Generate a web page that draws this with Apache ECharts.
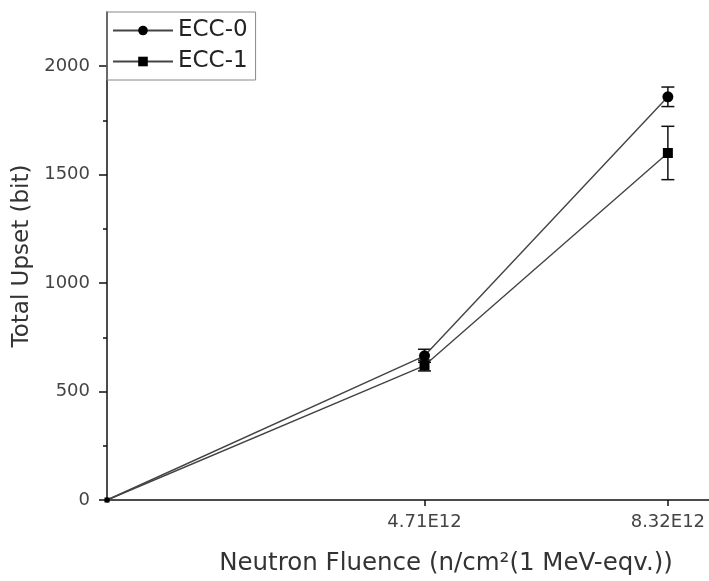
<!DOCTYPE html>
<html>
<head>
<meta charset="utf-8">
<script src="https://cdn.jsdelivr.net/npm/echarts@6/dist/echarts.min.js"></script>
<style>
  html, body {margin: 0; padding: 0; background: #fff;}
  #chart {width: 709px; height: 581px;}
</style>
</head>
<body>
<div id="chart"></div>
<script>
// neutron fluence, in units of 1E12 n/cm2
const fluence = [0, 4.71, 8.32];
const fluenceTicks = [4.71, 8.32];
const ecc0 = [0, 665, 1859];
const ecc0Err = [0, 30, 45];
const ecc1 = [0, 620, 1600];
const ecc1Err = [0, 25, 123];
const upsetTicks = [0, 500, 1000, 1500, 2000];
const upsetMinorTicks = [250, 750, 1250, 1750];

const font = 'DejaVu Sans';

const points = (ys) => fluence.map((x, i) => [x, ys[i]]);
const bars = (ys, errs) => fluence.map((x, i) => [x, ys[i] - errs[i], ys[i] + errs[i]]);

const errorBar = (params, api) => {
  const x = api.value(0);
  const lo = api.coord([x, api.value(1)]);
  const hi = api.coord([x, api.value(2)]);
  if (hi[1] === lo[1]) return null;
  const cap = 6.5;
  const style = {stroke: '#111', lineWidth: 1.5};
  return {
    type: 'group',
    children: [
      {type: 'line', shape: {x1: lo[0], y1: lo[1], x2: hi[0], y2: hi[1]}, style},
      {type: 'line', shape: {x1: lo[0] - cap, y1: lo[1], x2: lo[0] + cap, y2: lo[1]}, style},
      {type: 'line', shape: {x1: hi[0] - cap, y1: hi[1], x2: hi[0] + cap, y2: hi[1]}, style}
    ]
  };
};

// the origin point is drawn as a tiny blob, as in the source plot
const markerSize = (big) => (v) => (v[0] === 0 ? 5 : big);

const chart = echarts.init(document.getElementById('chart'));
chart.setOption({
  animation: false,
  textStyle: {fontFamily: font},
  grid: {left: 107, right: 0, top: 12, bottom: 78, containLabel: false},
  legend: {
    orient: 'vertical',
    left: 107,
    top: 12,
    padding: [7, 8, 7, 5],
    itemGap: 8,
    itemWidth: 60,
    itemHeight: 12,
    borderColor: '#888',
    borderWidth: 1,
    data: ['ECC-0', 'ECC-1'],
    textStyle: {fontFamily: font, fontSize: 23, color: '#222'}
  },
  xAxis: {
    type: 'value',
    min: 0,
    max: 8.93,
    name: 'Neutron Fluence (n/cm²(1 MeV-eqv.))',
    nameLocation: 'middle',
    nameGap: 51,
    nameTextStyle: {fontFamily: font, fontSize: 24.5, color: '#333', padding: [0, 0, 0, 76]},
    splitLine: {show: false},
    axisLine: {lineStyle: {color: '#111', width: 1.5}},
    axisTick: {show: true, length: 6, inside: false, customValues: fluenceTicks, lineStyle: {color: '#111', width: 1.5}},
    axisLabel: {
      customValues: fluenceTicks,
      margin: 13,
      fontSize: 18,
      color: '#444',
      formatter: (v) => v.toFixed(2) + 'E12'
    }
  },
  yAxis: [{
    type: 'value',
    min: 0,
    max: 2250,
    name: 'Total Upset (bit)',
    nameLocation: 'middle',
    nameGap: 61,
    nameTextStyle: {fontFamily: font, fontSize: 23, color: '#333'},
    splitLine: {show: false},
    axisLine: {show: true, lineStyle: {color: '#111', width: 1.5}},
    axisTick: {show: true, length: 8, customValues: upsetTicks, lineStyle: {color: '#111', width: 1.5}},
    axisLabel: {customValues: upsetTicks, margin: 17, fontSize: 18, color: '#444', formatter: (v) => String(v)}
  }, {
    type: 'value',
    min: 0,
    max: 2250,
    position: 'left',
    splitLine: {show: false},
    axisLine: {show: false},
    axisTick: {show: true, length: 4, customValues: upsetMinorTicks, lineStyle: {color: '#111', width: 1.5}},
    axisLabel: {show: false}
  }],
  series: [{
    name: 'ECC-0',
    type: 'line',
    data: points(ecc0),
    symbol: 'circle',
    symbolSize: markerSize(11),
    itemStyle: {color: '#000'},
    lineStyle: {color: '#444', width: 1.4}
  }, {
    name: 'ECC-1',
    type: 'line',
    data: points(ecc1),
    symbol: 'rect',
    symbolSize: markerSize(10),
    itemStyle: {color: '#000'},
    lineStyle: {color: '#444', width: 1.4}
  }, {
    type: 'custom',
    renderItem: errorBar,
    data: bars(ecc0, ecc0Err),
    z: 3
  }, {
    type: 'custom',
    renderItem: errorBar,
    data: bars(ecc1, ecc1Err),
    z: 3
  }]
});
</script>
</body>
</html>
